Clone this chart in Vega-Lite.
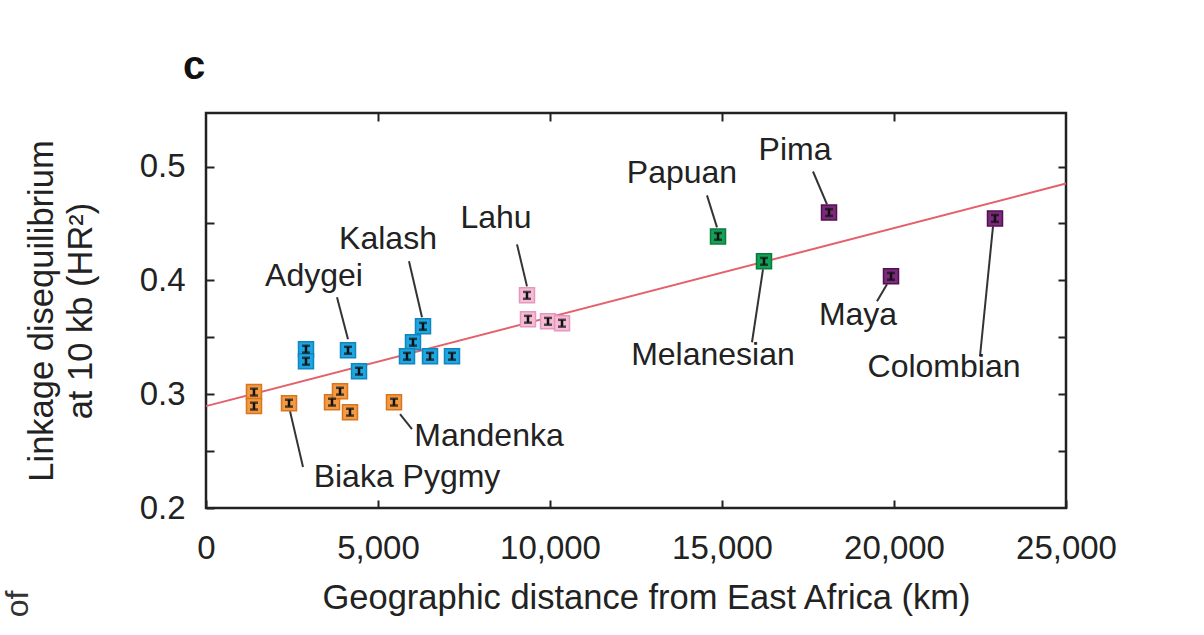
{
  "$schema": "https://vega.github.io/schema/vega-lite/v6.json",
  "width": 860,
  "height": 395,
  "autosize": {"type": "none"},
  "padding": {"left": 206, "top": 113, "right": 138, "bottom": 127},
  "background": "white",
  "config": {
    "font": "Liberation Sans",
    "view": {"stroke": "#222222", "strokeWidth": 2.5},
    "axis": {
      "domain": false,
      "grid": false,
      "tickSize": -8,
      "tickWidth": 2,
      "tickColor": "#222222",
      "labelFontSize": 33,
      "labelColor": "#222222",
      "titleFontSize": 34.5,
      "titleFontWeight": "normal",
      "titleColor": "#222222"
    }
  },
  "title": {
    "text": "c",
    "anchor": "start",
    "frame": "group",
    "fontSize": 40,
    "fontWeight": "bold",
    "color": "#111111",
    "dx": -23,
    "offset": 25
  },
  "datasets": {
    "pops": [
      {"region": "Africa", "km": 1395, "hr2": 0.3018},
      {"region": "Africa", "km": 1395, "hr2": 0.2895},
      {"region": "Africa", "km": 2413, "hr2": 0.2921},
      {"region": "Africa", "km": 3663, "hr2": 0.2930},
      {"region": "Africa", "km": 3895, "hr2": 0.3026},
      {"region": "Africa", "km": 4186, "hr2": 0.2842},
      {"region": "Africa", "km": 5465, "hr2": 0.2930},
      {"region": "Europe", "km": 2907, "hr2": 0.3395},
      {"region": "Europe", "km": 2907, "hr2": 0.3289},
      {"region": "Europe", "km": 4128, "hr2": 0.3386},
      {"region": "Europe", "km": 4448, "hr2": 0.3202},
      {"region": "Europe", "km": 6308, "hr2": 0.3596},
      {"region": "Europe", "km": 6017, "hr2": 0.3456},
      {"region": "Europe", "km": 5843, "hr2": 0.3333},
      {"region": "Europe", "km": 6512, "hr2": 0.3333},
      {"region": "Europe", "km": 7151, "hr2": 0.3333},
      {"region": "EastAsia", "km": 9331, "hr2": 0.3868},
      {"region": "EastAsia", "km": 9360, "hr2": 0.3658},
      {"region": "EastAsia", "km": 9942, "hr2": 0.3640},
      {"region": "EastAsia", "km": 10349, "hr2": 0.3623},
      {"region": "Oceania", "km": 14884, "hr2": 0.4386},
      {"region": "Oceania", "km": 16221, "hr2": 0.4167},
      {"region": "America", "km": 18111, "hr2": 0.4596},
      {"region": "America", "km": 19913, "hr2": 0.4035},
      {"region": "America", "km": 22936, "hr2": 0.4544}
    ],
    "labels": [
      {"name": "Adygei", "tx": 3140, "ty": 0.4035, "x1": 3808, "y1": 0.3851, "x2": 4128, "y2": 0.3482},
      {"name": "Kalash", "tx": 5291, "ty": 0.4360, "x1": 5901, "y1": 0.4167, "x2": 6279, "y2": 0.3675},
      {"name": "Lahu", "tx": 8430, "ty": 0.4544, "x1": 9041, "y1": 0.4316, "x2": 9331, "y2": 0.3947},
      {"name": "Papuan", "tx": 13837, "ty": 0.4939, "x1": 14564, "y1": 0.4746, "x2": 14855, "y2": 0.4465},
      {"name": "Pima", "tx": 17122, "ty": 0.5149, "x1": 17645, "y1": 0.4956, "x2": 18052, "y2": 0.4667},
      {"name": "Melanesian", "tx": 14738, "ty": 0.3342, "x1": 16192, "y1": 0.4096, "x2": 15872, "y2": 0.3456},
      {"name": "Maya", "tx": 18954, "ty": 0.3693, "x1": 19797, "y1": 0.3965, "x2": 19506, "y2": 0.3816},
      {"name": "Colombian", "tx": 21454, "ty": 0.3237, "x1": 22878, "y1": 0.4474, "x2": 22500, "y2": 0.3333},
      {"name": "Mandenka", "tx": 8227, "ty": 0.2632, "x1": 5640, "y1": 0.2825, "x2": 5988, "y2": 0.2693},
      {"name": "Biaka Pygmy", "tx": 5843, "ty": 0.2272, "x1": 2442, "y1": 0.2851, "x2": 2820, "y2": 0.2360}
    ],
    "fit": [
      {"km": 0, "hr2": 0.2895},
      {"km": 25000, "hr2": 0.485}
    ],
    "stray": [
      {"text": "of", "km": -5465, "hr2": 0.1158}
    ]
  },
  "resolve": {"axis": {"x": "independent", "y": "independent"}},
  "layer": [
    {
      "data": {"name": "fit"},
      "mark": {"type": "line", "color": "#e4606a", "strokeWidth": 2},
      "encoding": {
        "x": {"field": "km", "type": "quantitative", "scale": {"domain": [0, 25000], "nice": false},
          "axis": {"orient": "bottom", "values": [0, 5000, 10000, 15000, 20000, 25000], "format": ",d", "labelPadding": 32, "title": "Geographic distance from East Africa (km)", "titlePadding": 16, "titleX": 440, "labelFlush": false}},
        "y": {"field": "hr2", "type": "quantitative", "scale": {"domain": [0.2, 0.547], "nice": false, "zero": false},
          "axis": {"orient": "left", "values": [0.2, 0.25, 0.3, 0.35, 0.4, 0.45, 0.5], "labelExpr": "round(datum.value*100) % 10 === 0 ? format(datum.value, '.1f') : ''", "labelPadding": 29, "title": ["Linkage disequilibrium", "at 10 kb (HR²)"], "titlePadding": 41, "titleLineHeight": 39, "labelFlush": false}}
      }
    },
    {
      "data": {"name": "fit"},
      "mark": {"type": "line", "opacity": 0},
      "encoding": {
        "x": {"field": "km", "type": "quantitative", "scale": {"domain": [0, 25000], "nice": false},
          "axis": {"orient": "top", "values": [5000, 10000, 15000, 20000], "labels": false, "title": null}},
        "y": {"field": "hr2", "type": "quantitative", "scale": {"domain": [0.2, 0.547], "nice": false, "zero": false},
          "axis": {"orient": "right", "values": [0.25, 0.3, 0.35, 0.4, 0.45, 0.5], "labels": false, "title": null}}
      }
    },
    {
      "data": {"name": "labels"},
      "mark": {"type": "rule", "color": "#333333", "strokeWidth": 2},
      "encoding": {
        "x": {"field": "x1", "type": "quantitative", "axis": null},
        "y": {"field": "y1", "type": "quantitative", "axis": null},
        "x2": {"field": "x2"},
        "y2": {"field": "y2"}
      }
    },
    {
      "data": {"name": "pops"},
      "mark": {"type": "point", "shape": "square", "size": 225, "filled": true, "strokeWidth": 1.5, "opacity": 1},
      "encoding": {
        "x": {"field": "km", "type": "quantitative", "axis": null},
        "y": {"field": "hr2", "type": "quantitative", "axis": null},
        "fill": {"field": "region", "type": "nominal", "legend": null,
          "scale": {"domain": ["Africa", "Europe", "EastAsia", "Oceania", "America"], "range": ["#f29a44", "#1fa6e0", "#f6bcd6", "#15a057", "#7b2a7c"]}},
        "stroke": {"field": "region", "type": "nominal", "legend": null,
          "scale": {"domain": ["Africa", "Europe", "EastAsia", "Oceania", "America"], "range": ["#d8761f", "#0f86bf", "#e597bf", "#0b7a40", "#521052"]}}
      }
    },
    {
      "data": {"name": "pops"},
      "transform": [
        {"calculate": "datum.hr2 - 0.003", "as": "lo"},
        {"calculate": "datum.hr2 + 0.003", "as": "hi"}
      ],
      "mark": {"type": "errorbar", "ticks": {"size": 8, "thickness": 2.5, "color": "#111111"}, "rule": {"strokeWidth": 2.5, "color": "#111111"}},
      "encoding": {
        "x": {"field": "km", "type": "quantitative", "axis": null},
        "y": {"field": "lo", "type": "quantitative", "axis": null},
        "y2": {"field": "hi"}
      }
    },
    {
      "data": {"name": "labels"},
      "mark": {"type": "text", "fontSize": 32, "color": "#222222", "align": "center", "baseline": "middle"},
      "encoding": {
        "x": {"field": "tx", "type": "quantitative", "axis": null},
        "y": {"field": "ty", "type": "quantitative", "axis": null},
        "text": {"field": "name"}
      }
    },
    {
      "data": {"name": "stray"},
      "mark": {"type": "text", "fontSize": 32, "color": "#333333", "align": "center", "baseline": "middle", "angle": 270},
      "encoding": {
        "x": {"field": "km", "type": "quantitative", "axis": null},
        "y": {"field": "hr2", "type": "quantitative", "axis": null},
        "text": {"field": "text"}
      }
    }
  ]
}
